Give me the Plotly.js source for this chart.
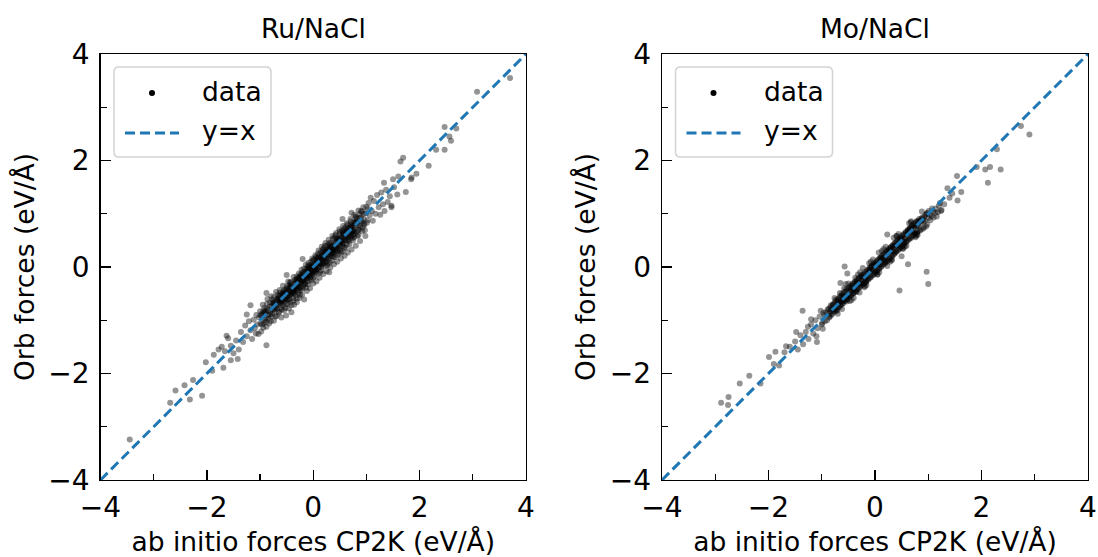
<!DOCTYPE html>
<html>
<head>
<meta charset="utf-8">
<script src="https://cdn.plot.ly/plotly-3.0.1.min.js"></script>
<style>html,body{margin:0;padding:0;background:#fff;}#chart{width:1098px;height:557px;}</style>
</head>
<body>
<div id="chart"></div>
<script>
// ---------------- data ----------------
const panelTitles = ["Ru/NaCl", "Mo/NaCl"];
const xTitle = "ab initio forces CP2K (eV/Å)";
const yTitle = "Orb forces (eV/Å)";
const tickValues = [-4, -2, 0, 2, 4];
const diagX = [-4, 4];
const diagY = [-4, 4];

// Ru/NaCl : [CP2K force, Orb force]
const ruPoints = [
[-1.02,-0.95],[-0.98,-1.21],[-0.95,-0.71],[-0.93,-1.05],[-0.9,-0.82],[-0.88,-1.12],[-0.86,-0.6],[-0.84,-0.97],[-0.82,-0.74],[-0.8,-1.02],
[-0.79,-0.55],[-0.77,-0.88],[-0.75,-0.66],[-0.74,-1.01],[-0.72,-0.79],[-0.7,-0.47],[-0.69,-0.92],[-0.67,-0.71],[-0.66,-0.58],[-0.64,-0.86],
[-0.63,-0.43],[-0.61,-0.77],[-0.6,-0.95],[-0.58,-0.62],[-0.57,-0.35],[-0.55,-0.81],[-0.54,-0.53],[-0.52,-0.7],[-0.51,-0.91],[-0.5,-0.4],
[-0.49,-0.61],[-0.47,-0.27],[-0.46,-0.78],[-0.45,-0.52],[-0.43,-0.66],[-0.42,-0.33],[-0.41,-0.85],[-0.4,-0.47],[-0.38,-0.58],[-0.37,-0.19],
[-0.36,-0.71],[-0.35,-0.42],[-0.33,-0.53],[-0.32,-0.24],[-0.31,-0.66],[-0.3,-0.36],[-0.28,-0.49],[-0.27,-0.12],[-0.26,-0.58],[-0.25,-0.3],
[-0.24,-0.44],[-0.22,-0.05],[-0.21,-0.52],[-0.2,-0.26],[-0.19,-0.37],[-0.17,-0.61],[-0.16,-0.18],[-0.15,-0.29],[-0.14,0.04],[-0.12,-0.45],
[-0.11,-0.21],[-0.1,-0.33],[-0.09,0.08],[-0.07,-0.14],[-0.06,-0.4],[-0.05,-0.02],[-0.04,-0.25],[-0.02,0.16],[-0.01,-0.09],[0.0,-0.31],
[0.01,0.05],[0.02,-0.18],[0.04,0.22],[0.05,-0.04],[0.06,-0.27],[0.07,0.11],[0.09,-0.12],[0.1,0.31],[0.11,0.0],[0.12,-0.2],
[0.14,0.17],[0.15,-0.06],[0.16,0.38],[0.18,0.08],[0.19,-0.13],[0.2,0.24],[0.22,0.02],[0.23,0.45],[0.24,0.15],[0.25,-0.08],
[0.27,0.29],[0.28,0.06],[0.29,0.51],[0.31,0.2],[0.32,-0.01],[0.33,0.37],[0.35,0.12],[0.36,0.58],[0.37,0.26],[0.39,0.05],
[0.4,0.42],[0.41,0.19],[0.43,0.64],[0.44,0.33],[0.45,0.1],[0.47,0.5],[0.48,0.25],[0.49,0.71],[0.51,0.38],[0.52,0.16],
[0.53,0.55],[0.55,0.3],[0.56,0.77],[0.57,0.44],[0.59,0.21],[0.6,0.62],[0.61,0.36],[0.63,0.82],[0.64,0.5],[0.65,0.27],
[0.67,0.69],[0.68,0.43],[0.7,0.9],[0.71,0.57],[0.72,0.33],[0.74,0.76],[0.75,0.5],[0.77,0.98],[0.78,0.62],[0.8,0.4],
[0.81,0.85],[0.83,0.58],[0.85,1.06],[0.86,0.71],[0.88,0.49],[0.9,0.94],[0.92,0.67],[0.94,1.12],[0.96,0.79],[0.98,0.58],
[-0.85,-0.9],[-0.78,-0.74],[-0.71,-0.76],[-0.65,-0.6],[-0.59,-0.64],[-0.53,-0.49],[-0.48,-0.54],[-0.44,-0.4],[-0.39,-0.45],[-0.34,-0.3],
[-0.29,-0.35],[-0.23,-0.19],[-0.18,-0.24],[-0.13,-0.09],[-0.08,-0.15],[-0.03,0.01],[0.03,-0.03],[0.08,0.12],[0.13,0.07],[0.17,0.21],
[0.21,0.16],[0.26,0.3],[0.3,0.25],[0.34,0.39],[0.38,0.33],[0.42,0.47],[0.46,0.4],[0.5,0.55],[0.54,0.48],[0.58,0.63],
[0.62,0.56],[0.66,0.71],[0.69,0.63],[0.73,0.78],[0.76,0.7],[0.79,0.84],[0.84,0.78],[0.87,0.92],[0.91,0.85],[0.95,1.0],
[-0.62,-0.69],[-0.56,-0.47],[-0.5,-0.57],[-0.43,-0.35],[-0.37,-0.44],[-0.3,-0.22],[-0.24,-0.31],[-0.17,-0.09],[-0.11,-0.18],[-0.04,0.04],
[0.02,-0.06],[0.08,0.17],[0.14,0.06],[0.2,0.29],[0.26,0.18],[0.32,0.41],[0.38,0.29],[0.44,0.53],[0.5,0.42],[0.56,0.66],
[-0.96,-0.88],[-0.91,-0.99],[-0.87,-0.78],[-0.81,-0.89],[-0.76,-0.68],[-0.73,-0.82],[-0.68,-0.6],[-0.62,-0.53],[-0.57,-0.72],[-0.52,-0.43],
[-0.47,-0.62],[-0.42,-0.28],[-0.36,-0.5],[-0.31,-0.18],[-0.25,-0.4],[-0.2,-0.11],[-0.15,-0.33],[-0.1,0.01],[-0.05,-0.19],[0.0,0.12],
[0.05,-0.1],[0.1,0.2],[0.15,0.0],[0.2,0.35],[0.25,0.1],[0.3,0.44],[0.35,0.2],[0.4,0.55],[0.45,0.3],[0.5,0.66],
[0.55,0.4],[0.6,0.74],[0.65,0.52],[0.7,0.8],[0.75,0.6],[0.8,0.93],[0.85,0.69],[0.9,1.05],[0.95,0.81],[1.0,1.13],
[-1.45,-1.38],[-1.4,-1.55],[-1.36,-1.22],[-1.32,-1.41],[-1.28,-1.1],[-1.25,-1.3],[-1.21,-1.02],[-1.18,-1.19],[-1.15,-1.35],[-1.12,-0.99],
[-1.1,-1.15],[-1.07,-0.9],[-1.05,-1.08],[-1.03,-1.26],[-1.0,-0.83],[-0.99,-1.06],[-0.97,-0.92],[-0.94,-1.14],[-0.92,-0.77],[-0.89,-0.96],
[1.02,0.88],[1.04,1.2],[1.06,0.97],[1.08,1.3],[1.1,1.05],[1.12,0.87],[1.14,1.24],[1.17,1.0],[1.2,1.35],[1.23,1.12],
[1.26,0.98],[1.28,1.4],[1.31,1.18],[1.34,1.05],[1.37,1.45],[1.4,1.22],[1.44,1.33],[1.47,1.12],[1.52,1.5],[1.58,1.36],
[-1.55,-1.48],[-1.6,-1.34],[-1.66,-1.58],[-1.72,-1.5],[-1.5,-1.62],[-0.5,-0.15],[0.55,0.9],[-0.2,0.15],[0.3,-0.1],[0.72,1.02],
[-0.99,-0.9],[-0.96,-1.08],[-0.94,-0.83],[-0.91,-0.86],[-0.89,-1.03],[-0.87,-0.69],[-0.85,-0.81],[-0.83,-1.06],[-0.81,-0.66],[-0.79,-0.93],
[-0.77,-0.61],[-0.76,-0.8],[-0.74,-0.57],[-0.73,-0.71],[-0.71,-0.93],[-0.7,-0.64],[-0.68,-0.78],[-0.67,-0.52],[-0.65,-0.84],[-0.64,-0.66],
[-0.62,-0.48],[-0.61,-0.63],[-0.59,-0.8],[-0.58,-0.52],[-0.56,-0.66],[-0.55,-0.43],[-0.53,-0.6],[-0.52,-0.77],[-0.5,-0.49],[-0.49,-0.35],
[-0.48,-0.69],[-0.46,-0.45],[-0.45,-0.6],[-0.44,-0.29],[-0.42,-0.51],[-0.41,-0.72],[-0.39,-0.38],[-0.38,-0.5],[-0.37,-0.63],[-0.35,-0.25],
[-0.34,-0.47],[-0.33,-0.36],[-0.31,-0.59],[-0.3,-0.28],[-0.29,-0.43],[-0.27,-0.21],[-0.26,-0.38],[-0.25,-0.52],[-0.23,-0.29],[-0.22,-0.14],
[-0.21,-0.41],[-0.19,-0.2],[-0.18,-0.33],[-0.17,-0.03],[-0.15,-0.22],[-0.14,-0.39],[-0.13,-0.17],[-0.11,-0.06],[-0.1,-0.27],[-0.09,-0.1],
[-0.08,0.03],[-0.06,-0.22],[-0.05,-0.08],[-0.04,0.1],[-0.02,-0.13],[-0.01,0.0],[0.0,-0.2],[0.01,0.14],[0.03,-0.09],[0.04,0.05],
[0.05,0.19],[0.06,-0.05],[0.08,0.08],[0.09,0.25],[0.1,-0.01],[0.12,0.13],[0.13,-0.1],[0.14,0.28],[0.16,0.04],[0.17,0.15],
[0.18,0.33],[0.19,0.06],[0.21,0.22],[0.22,0.4],[0.23,0.09],[0.25,0.27],[0.26,0.03],[0.27,0.41],[0.29,0.16],[0.3,0.33],
[0.31,0.09],[0.33,0.46],[0.34,0.24],[0.35,0.31],[0.37,0.53],[0.38,0.19],[0.39,0.38],[0.41,0.28],[0.42,0.6],[0.43,0.35],
[0.45,0.22],[0.46,0.49],[0.47,0.35],[0.49,0.6],[0.5,0.31],[0.51,0.48],[0.53,0.27],[0.54,0.68],[0.55,0.45],[0.57,0.57],
[0.58,0.36],[0.59,0.72],[0.61,0.51],[0.62,0.66],[0.63,0.42],[0.65,0.8],[0.66,0.59],[0.67,0.49],[0.69,0.74],[0.7,0.58],
[0.71,0.86],[0.73,0.54],[0.74,0.67],[0.76,0.83],[0.77,0.56],[0.78,0.77],[0.8,0.95],[0.82,0.66],[0.83,0.82],[0.85,0.6],
[0.87,0.99],[0.88,0.76],[0.9,0.86],[0.92,1.04],[0.93,0.74],[0.95,0.9],[0.97,0.69],[0.99,1.01],[1.01,0.83],[1.03,1.09],
[-0.7,-0.72],[-0.66,-0.62],[-0.61,-0.67],[-0.57,-0.53],[-0.53,-0.58],[-0.49,-0.44],[-0.45,-0.49],[-0.41,-0.37],[-0.37,-0.42],[-0.33,-0.28],
[-0.29,-0.32],[-0.25,-0.19],[-0.21,-0.25],[-0.17,-0.13],[-0.13,-0.18],[-0.09,-0.04],[-0.05,-0.1],[-0.01,0.03],[0.03,0.0],[0.07,0.13],
[0.11,0.07],[0.15,0.2],[0.19,0.15],[0.23,0.28],[0.27,0.22],[0.31,0.36],[0.35,0.3],[0.39,0.44],[0.43,0.39],[0.47,0.52],
[0.51,0.46],[0.55,0.6],[0.59,0.53],[0.63,0.68],[0.67,0.61],[0.71,0.75],[0.75,0.68],[0.79,0.83],[-0.74,-0.68],[-0.8,-0.84],
[-0.55,-0.61],[-0.46,-0.38],[-0.36,-0.41],[-0.27,-0.2],[-0.18,-0.26],[-0.08,-0.02],[0.01,-0.07],[0.1,0.16],[0.19,0.12],[0.28,0.35],
[0.37,0.31],[0.46,0.53],[0.55,0.49],[0.64,0.72],[0.73,0.66],[0.82,0.9],[-0.64,-0.55],[-0.44,-0.53],[-0.24,-0.15],[-0.04,-0.13],
[0.16,0.25],[0.36,0.27],[0.56,0.64],[0.76,0.66],[-0.9,-0.86],[-0.58,-0.5],[-0.32,-0.4],[-0.12,-0.03],[0.06,0.0],[0.24,0.32],
[-3.45,-3.24],[3.7,3.55],[3.08,3.29],[2.47,2.63],[2.69,2.6],[2.56,2.45],[2.59,2.37],[2.47,2.2],[2.31,2.2],[2.17,1.9],
[1.69,2.05],[1.64,1.98],[1.94,1.75],[1.84,1.65],[1.74,1.41],[1.5,1.65],[1.33,1.58],[1.47,1.15],[-2.69,-2.55],[-2.59,-2.32],
[-2.42,-2.22],[-2.32,-2.49],[-2.09,-2.42],[-2.26,-2.12],[-2.02,-1.79],[-1.87,-1.65],[-1.69,-1.89],[-1.42,-1.73],[-1.63,-1.29],[-0.88,-1.47],
[-1.08,-1.25],[-1.25,-0.89],[-0.88,-0.49],[-1.18,-0.72],[1.85,1.68],[1.6,1.7],[-1.9,-1.95],[-1.55,-1.75],[-1.78,-1.55]
];

// Mo/NaCl : [CP2K force, Orb force]
const moPoints = [
[-0.92,-0.85],[-0.9,-1.0],[-0.87,-0.79],[-0.85,-0.93],[-0.83,-0.72],[-0.8,-0.88],[-0.78,-0.69],[-0.76,-0.84],[-0.74,-0.62],[-0.72,-0.79],
[-0.7,-0.6],[-0.68,-0.76],[-0.66,-0.55],[-0.64,-0.71],[-0.62,-0.5],[-0.6,-0.68],[-0.58,-0.47],[-0.56,-0.63],[-0.54,-0.42],[-0.52,-0.6],
[-0.5,-0.39],[-0.48,-0.55],[-0.46,-0.35],[-0.44,-0.52],[-0.42,-0.31],[-0.4,-0.49],[-0.38,-0.27],[-0.36,-0.45],[-0.34,-0.24],[-0.32,-0.41],
[-0.3,-0.2],[-0.28,-0.37],[-0.26,-0.16],[-0.24,-0.33],[-0.22,-0.13],[-0.2,-0.3],[-0.18,-0.09],[-0.16,-0.26],[-0.14,-0.05],[-0.12,-0.22],
[-0.1,-0.01],[-0.08,-0.19],[-0.06,0.03],[-0.04,-0.15],[-0.02,0.06],[0.0,-0.11],[0.02,0.1],[0.04,-0.07],[0.06,0.14],[0.08,-0.03],
[0.1,0.18],[0.12,0.01],[0.14,0.22],[0.16,0.05],[0.18,0.26],[0.2,0.09],[0.22,0.3],[0.24,0.13],[0.26,0.34],[0.28,0.17],
[0.3,0.38],[0.32,0.21],[0.34,0.42],[0.36,0.25],[0.38,0.46],[0.4,0.29],[0.42,0.5],[0.44,0.33],[0.46,0.54],[0.48,0.37],
[0.5,0.58],[0.52,0.41],[0.54,0.62],[0.56,0.45],[0.58,0.66],[0.6,0.49],[0.62,0.7],[0.64,0.53],[0.66,0.74],[0.68,0.56],
[0.7,0.78],[0.72,0.6],[0.74,0.82],[0.76,0.64],[0.78,0.86],[0.8,0.67],[0.83,0.9],[0.86,0.7],[0.89,0.93],[0.92,0.74],
[-0.86,-0.88],[-0.81,-0.8],[-0.75,-0.77],[-0.69,-0.68],[-0.63,-0.65],[-0.57,-0.55],[-0.51,-0.53],[-0.45,-0.44],[-0.39,-0.41],[-0.33,-0.31],
[-0.27,-0.29],[-0.21,-0.2],[-0.15,-0.17],[-0.09,-0.07],[-0.03,-0.05],[0.03,0.04],[0.09,0.07],[0.15,0.16],[0.21,0.19],[0.27,0.28],
[0.33,0.31],[0.39,0.4],[0.45,0.43],[0.51,0.52],[0.57,0.55],[0.63,0.64],[0.69,0.67],[0.75,0.76],[0.81,0.79],[0.87,0.88],
[-0.79,-0.71],[-0.71,-0.82],[-0.61,-0.56],[-0.53,-0.65],[-0.43,-0.37],[-0.35,-0.47],[-0.25,-0.19],[-0.17,-0.29],[-0.07,0.0],[0.01,-0.08],
[0.11,0.17],[0.19,0.1],[0.29,0.35],[0.37,0.28],[0.47,0.53],[0.55,0.47],[0.65,0.71],[0.73,0.65],[0.83,0.86],[0.91,0.85],
[-0.66,-0.49],[-0.47,-0.64],[-0.37,-0.2],[-0.19,-0.36],[-0.11,0.07],[0.05,-0.14],[0.13,0.3],[0.31,0.12],[0.41,0.58],[0.59,0.4],
[0.67,0.84],[0.77,0.58],[-0.55,-0.32],[-0.23,-0.02],[0.07,0.27],[0.35,0.55],[-0.29,-0.48],[0.23,0.02],[0.53,0.35],[0.79,0.62],
[-1.3,-1.22],[-1.25,-1.35],[-1.2,-1.08],[-1.16,-1.25],[-1.12,-1.0],[-1.08,-1.15],[-1.04,-0.93],[-1.0,-1.08],[-0.97,-0.86],[-0.94,-1.02],
[-1.5,-1.4],[-1.45,-1.55],[-1.4,-1.28],[-1.35,-1.45],[-1.6,-1.5],[-1.2,-0.98],[-1.1,-1.3],[-1.02,-0.82],[-0.98,-1.16],[-1.26,-1.12],
[0.95,0.98],[0.98,0.8],[1.01,1.05],[1.04,0.88],[1.07,1.1],[1.1,0.93],[1.13,1.02],[1.16,0.95],[1.2,1.15],[1.25,1.07],
[0.94,0.87],[0.97,1.0],[1.0,0.92],[1.03,0.98],[1.06,0.96],[1.09,1.04],[1.14,1.1],[1.18,1.03],[1.22,1.2],[1.3,1.18],
[-0.89,-0.8],[-0.86,-0.95],[-0.84,-0.76],[-0.82,-0.9],[-0.8,-0.73],[-0.77,-0.83],[-0.75,-0.66],[-0.73,-0.81],[-0.71,-0.63],[-0.69,-0.75],
[-0.67,-0.58],[-0.65,-0.73],[-0.63,-0.54],[-0.61,-0.69],[-0.59,-0.51],[-0.57,-0.64],[-0.55,-0.46],[-0.53,-0.61],[-0.51,-0.43],[-0.49,-0.57],
[-0.47,-0.38],[-0.45,-0.53],[-0.43,-0.34],[-0.41,-0.5],[-0.39,-0.3],[-0.37,-0.46],[-0.35,-0.27],[-0.33,-0.42],[-0.31,-0.23],[-0.29,-0.38],
[-0.27,-0.19],[-0.25,-0.34],[-0.23,-0.15],[-0.21,-0.31],[-0.19,-0.12],[-0.17,-0.27],[-0.15,-0.08],[-0.13,-0.24],[-0.11,-0.04],[-0.09,-0.2],
[-0.07,0.01],[-0.05,-0.16],[-0.03,0.04],[-0.01,-0.12],[0.01,0.08],[0.03,-0.08],[0.05,0.12],[0.07,-0.04],[0.09,0.16],[0.11,0.0],
[0.13,0.2],[0.15,0.04],[0.17,0.24],[0.19,0.07],[0.21,0.28],[0.23,0.11],[0.25,0.32],[0.27,0.15],[0.29,0.36],[0.31,0.19],
[0.33,0.4],[0.35,0.23],[0.37,0.44],[0.39,0.27],[0.41,0.48],[0.43,0.31],[0.45,0.52],[0.47,0.35],[0.49,0.56],[0.51,0.39],
[0.53,0.6],[0.55,0.43],[0.57,0.64],[0.59,0.47],[0.61,0.68],[0.63,0.51],[0.65,0.72],[0.67,0.54],[0.69,0.76],[0.71,0.58],
[0.73,0.8],[0.75,0.62],[0.77,0.84],[0.79,0.65],[0.81,0.87],[0.84,0.68],[0.87,0.91],[0.9,0.72],[0.93,0.95],[0.96,0.76],
[-0.84,-0.83],[-0.78,-0.79],[-0.72,-0.71],[-0.66,-0.67],[-0.6,-0.59],[-0.54,-0.55],[-0.48,-0.47],[-0.42,-0.43],[-0.36,-0.35],[-0.3,-0.31],
[-0.24,-0.23],[-0.18,-0.19],[-0.12,-0.11],[-0.06,-0.07],[0.0,0.01],[0.06,0.05],[0.12,0.13],[0.18,0.17],[0.24,0.25],[0.3,0.29],
[0.36,0.37],[0.42,0.41],[0.48,0.49],[0.54,0.53],[0.6,0.61],[0.66,0.65],[0.72,0.73],[0.78,0.77],[0.84,0.85],[0.9,0.89],
[-0.76,-0.58],[-0.62,-0.79],[-0.5,-0.31],[-0.4,-0.58],[-0.28,-0.1],[-0.16,-0.34],[-0.04,0.14],[0.08,-0.1],[0.2,0.38],[0.32,0.14],
[0.44,0.62],[0.56,0.38],[0.68,0.86],[0.8,0.6],[-0.7,-0.88],[-0.58,-0.4],[-0.44,-0.62],[-0.32,-0.14],[-0.2,-0.38],[-0.08,0.1],
[0.04,-0.14],[0.16,0.34],[0.28,0.1],[0.4,0.58],[0.52,0.34],[0.64,0.82],[0.76,0.56],[0.88,1.04],[-0.95,-0.9],[-0.99,-1.05],
[-0.6,-0.63],[-0.44,-0.4],[-0.26,-0.3],[-0.1,-0.06],[0.08,0.04],[0.26,0.3],[0.44,0.4],[0.62,0.66],[0.8,0.76],[0.98,1.02],
[-0.68,-0.64],[-0.52,-0.56],[-0.34,-0.3],[-0.18,-0.22],[0.0,0.04],[0.16,0.12],[0.34,0.38],[0.5,0.46],[0.68,0.72],[0.86,0.82],
[-2.89,-2.55],[-2.76,-2.59],[-2.75,-2.44],[-2.54,-2.19],[-2.36,-2.04],[-2.15,-2.19],[-1.99,-1.69],[-1.87,-1.59],[-1.8,-1.85],[-1.67,-1.49],
[-1.48,-1.22],[-1.36,-0.82],[-1.09,-1.41],[-0.57,0.01],[0.97,-0.09],[1.0,-0.32],[0.46,-0.44],[0.62,0.05],[0.23,0.61],[2.74,2.65],
[2.9,2.49],[2.29,2.21],[2.36,1.83],[2.12,1.58],[2.16,1.88],[2.07,1.83],[1.91,1.88],[1.54,1.71],[1.62,1.41],[1.55,1.25],
[1.36,1.48],[1.24,1.05],[1.4,1.3],[1.45,1.38],[-1.7,-1.6],[-1.9,-1.82],[-0.52,-0.12],[-0.65,-0.3],[0.5,0.2]
];

// ---------------- drawing ----------------
const W = 1098, H = 557;
const FONT = "DejaVu Sans, Liberation Sans, sans-serif";
const BLUE = "#1f77b4";
const px = x => x / W;
const py = y => 1 - y / H;

const panels = [
  {pts: ruPoints, xa: "x", ya: "y", left: 100.5, right: 526},
  {pts: moPoints, xa: "x2", ya: "y2", left: 662, right: 1088}
];
const plotTop = 54, plotBottom = 480;

const traces = [];
panels.forEach(p => {
  traces.push({
    type: "scatter", mode: "markers", xaxis: p.xa, yaxis: p.ya,
    x: p.pts.map(d => d[0]), y: p.pts.map(d => d[1]),
    marker: {color: "black", size: 6, opacity: 0.42, line: {width: 0}},
    name: "data", showlegend: false, hoverinfo: "skip"
  });
  traces.push({
    type: "scatter", mode: "lines", xaxis: p.xa, yaxis: p.ya,
    x: diagX, y: diagY,
    line: {color: BLUE, width: 3, dash: "10px,5px"},
    name: "y=x", showlegend: false, hoverinfo: "skip"
  });
});

function axisCommon(domain, anchor, title, isX) {
  return {
    domain: domain, anchor: anchor, range: [-4, 4], autorange: false,
    tickmode: "array", tickvals: tickValues,
    ticks: "inside", ticklen: 10, tickwidth: 1.3, tickcolor: "black",
    minor: {ticks: "inside", ticklen: 6, tickwidth: 1.2, tickcolor: "black", dtick: 1, tick0: 0, showgrid: false},
    showline: true, linecolor: "black", linewidth: 1.3, mirror: true,
    showgrid: false, zeroline: false,
    tickfont: {family: FONT, size: 28, color: "black"},
    ticklabelstandoff: isX ? 2 : 4,
    title: {text: title, font: {family: FONT, size: 26.5, color: "black"}, standoff: isX ? 11 : 6},
    automargin: false, fixedrange: true
  };
}

const yDom = [py(plotBottom), py(plotTop)];
const layout = {
  width: W, height: H,
  margin: {l: 0, r: 0, t: 0, b: 0, pad: 0},
  paper_bgcolor: "white", plot_bgcolor: "white",
  showlegend: false,
  font: {family: FONT, color: "black"},
  xaxis: axisCommon([px(panels[0].left), px(panels[0].right)], "y", xTitle, true),
  yaxis: axisCommon(yDom, "x", yTitle, false),
  xaxis2: axisCommon([px(panels[1].left), px(panels[1].right)], "y2", xTitle, true),
  yaxis2: axisCommon(yDom, "x2", yTitle, false),
  annotations: [],
  shapes: []
};

// panel titles
panels.forEach((p, i) => {
  layout.annotations.push({
    xref: "paper", yref: "paper", x: px((p.left + p.right) / 2), y: py(29),
    xanchor: "center", yanchor: "middle", showarrow: false,
    text: panelTitles[i], font: {family: FONT, size: 26.5, color: "black"}
  });
});

// legend boxes (matplotlib-style, upper left of each panel)
function roundedRect(L, T, w, h, r) {
  const x0 = px(L), x1 = px(L + w), y0 = py(T), y1 = py(T + h);
  const rx = r / W, ry = r / H;
  return `M ${x0 + rx},${y0} L ${x1 - rx},${y0} Q ${x1},${y0} ${x1},${y0 - ry} ` +
         `L ${x1},${y1 + ry} Q ${x1},${y1} ${x1 - rx},${y1} L ${x0 + rx},${y1} ` +
         `Q ${x0},${y1} ${x0},${y1 + ry} L ${x0},${y0 - ry} Q ${x0},${y0} ${x0 + rx},${y0} Z`;
}
panels.forEach(p => {
  const L = p.left + 13.5, T = 67;
  layout.shapes.push({
    type: "path", xref: "paper", yref: "paper", path: roundedRect(L, T, 157, 90, 5),
    fillcolor: "rgba(255,255,255,0.8)", line: {color: "#d3d3d3", width: 1.5}, layer: "above"
  });
  layout.shapes.push({
    type: "circle", xref: "paper", yref: "paper",
    x0: px(L + 38 - 3), x1: px(L + 38 + 3), y0: py(93 + 3), y1: py(93 - 3),
    fillcolor: "black", line: {color: "black", width: 0}, layer: "above"
  });
  layout.shapes.push({
    type: "line", xref: "paper", yref: "paper",
    x0: px(L + 11), x1: px(L + 65), y0: py(133), y1: py(133),
    line: {color: BLUE, width: 3, dash: "10px,5px"}, layer: "above"
  });
  layout.annotations.push({
    xref: "paper", yref: "paper", x: px(L + 86), y: py(91), xanchor: "left", yanchor: "middle",
    showarrow: false, text: "data", font: {family: FONT, size: 26.5, color: "black"}
  });
  layout.annotations.push({
    xref: "paper", yref: "paper", x: px(L + 86), y: py(131), xanchor: "left", yanchor: "middle",
    showarrow: false, text: "y=x", font: {family: FONT, size: 26.5, color: "black"}
  });
});

Plotly.newPlot("chart", traces, layout, {staticPlot: true, displayModeBar: false});
</script>
</body>
</html>
